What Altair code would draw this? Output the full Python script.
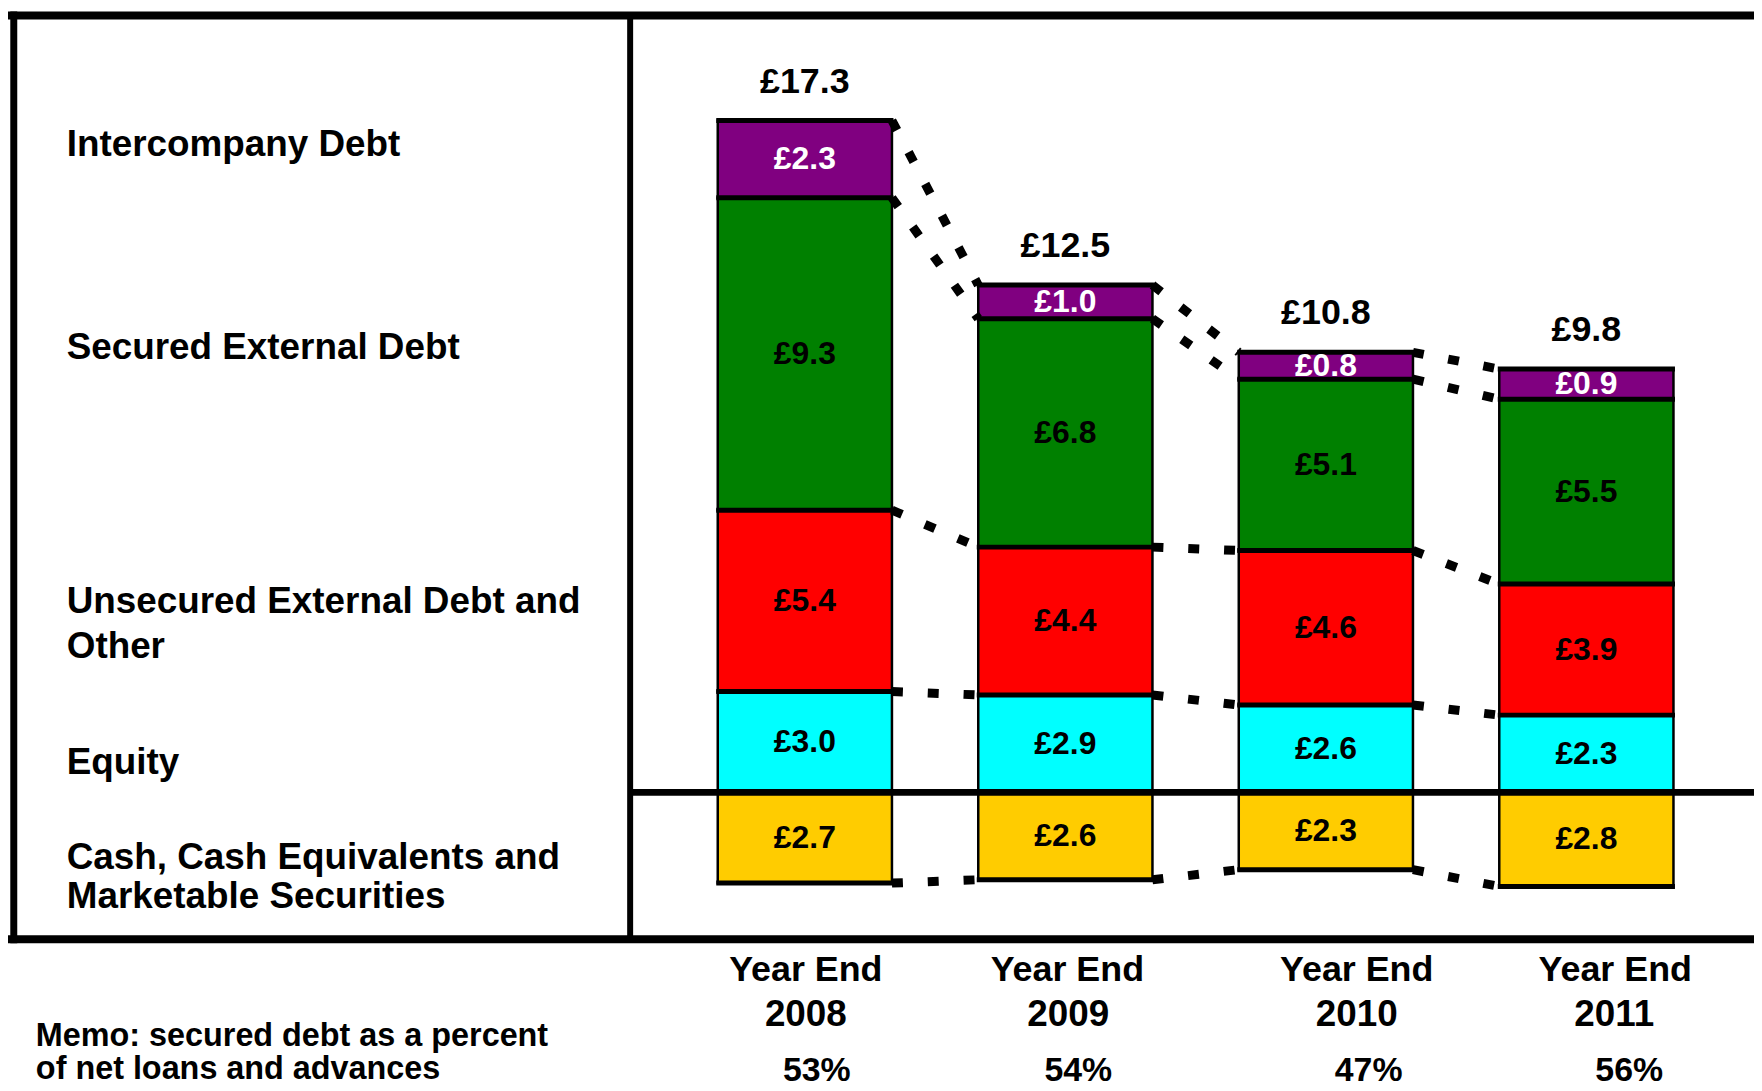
import altair as alt
import pandas as pd

# ---------------- data ----------------
years = ["2008", "2009", "2010", "2011"]
intercompany = [2.3, 1.0, 0.8, 0.9]
secured = [9.3, 6.8, 5.1, 5.5]
unsecured = [5.4, 4.4, 4.6, 3.9]
equity = [3.0, 2.9, 2.6, 2.3]
cash = [2.7, 2.6, 2.3, 2.8]
totals = [17.3, 12.5, 10.8, 9.8]
memo_pct = ["53%", "54%", "47%", "56%"]

segment_names = ["Equity", "Unsecured", "Secured", "Intercompany", "Cash"]
segment_colors = ["#00FFFF", "#FF0000", "#008000", "#800080", "#FFCC00"]

row_labels = [
    "Intercompany Debt",
    "Secured External Debt",
    "Unsecured External Debt and",
    "Other",
    "Equity",
    "Cash, Cash Equivalents and",
    "Marketable Securities",
]
memo_lines = ["Memo: secured debt as a percent", "of net loans and advances"]

# ---------------- derived tables ----------------
seg_rows = []
levels = {}  # per year boundary levels
for i, yr in enumerate(years):
    base = 0.0
    lv = []
    for name, vals in [("Equity", equity), ("Unsecured", unsecured),
                       ("Secured", secured), ("Intercompany", intercompany)]:
        v = vals[i]
        seg_rows.append(dict(year=yr, seg=name, y0=base, y1=base + v,
                             mid=base + v / 2, label=f"£{v:.1f}"))
        base += v
        lv.append(base)
    seg_rows.append(dict(year=yr, seg="Cash", y0=-cash[i], y1=0.0,
                         mid=-cash[i] / 2, label=f"£{cash[i]:.1f}"))
    levels[yr] = lv + [-cash[i]]
seg_df = pd.DataFrame(seg_rows)

tick_rows = []
for yr in years:
    for v in levels[yr]:
        tick_rows.append(dict(year=yr, v=v))
tick_df = pd.DataFrame(tick_rows)

conn_rows = []
for k in range(5):
    for i in range(len(years) - 1):
        a, b = years[i], years[i + 1]
        conn_rows.append(dict(ya=a, yb=b, va=levels[a][k], vb=levels[b][k]))
conn_df = pd.DataFrame(conn_rows)

tot_df = pd.DataFrame(dict(year=years, top=[levels[y][3] for y in years],
                           label=[f"£{t:.1f}" for t in totals]))
bottom_df = pd.DataFrame(dict(year=years, pct=memo_pct))

# ---------------- layout ----------------
W, H = 1754, 1083
PX = 33.75          # pixels per £bn
ZERO = 785.5        # pixel row of zero inside the plot
FONT = "Liberation Sans"

x_scale = alt.Scale(domain=years, range=[713, 1673.1], paddingInner=0.3313, paddingOuter=0)
y_scale = alt.Scale(domain=[-(H - ZERO) / PX, ZERO / PX], nice=False, zero=False)

X = lambda f: alt.X(f, type="nominal", scale=x_scale, axis=None)
Y = lambda f: alt.Y(f, type="quantitative", scale=y_scale, axis=None)

layers = []

bars = alt.Chart(seg_df).mark_bar(stroke="black", strokeWidth=2.5, opacity=1).encode(
    x=X("year"), y=Y("y0"), y2="y1",
    color=alt.Color("seg:N", scale=alt.Scale(domain=segment_names, range=segment_colors), legend=None),
)
layers.append(bars)

ticks = alt.Chart(tick_df).mark_tick(color="black", thickness=5, size=178,
                                     orient="horizontal", opacity=1).encode(x=X("year"), y=Y("v"))
layers.append(ticks)

conn = alt.Chart(conn_df).mark_rule(color="black", strokeWidth=9, strokeDash=[11, 25]).encode(
    x=alt.X("ya:N", scale=x_scale, axis=None, bandPosition=1),
    x2=alt.X2("yb:N", bandPosition=0),
    y=Y("va"), y2="vb",
)
layers.append(conn)

one = alt.Data(values=[{}])
zero_line = alt.Chart(one).mark_rule(color="black", strokeWidth=7).encode(
    x=alt.value(625), x2=alt.value(W), y=alt.Y(datum=0, scale=y_scale, axis=None))
layers.append(zero_line)

frame = [
    dict(x=0, x2=W, y=5, y2=5, w=8),         # top
    dict(x=0, x2=W, y=933, y2=933, w=8),     # bottom
    dict(x=5.8, x2=5.8, y=1, y2=937, w=7),   # left
    dict(x=625, x2=625, y=5, y2=933, w=6),   # divider
]
for f in frame:
    layers.append(alt.Chart(one).mark_rule(color="black", strokeWidth=f["w"]).encode(
        x=alt.value(f["x"]), x2=alt.value(f["x2"]), y=alt.value(f["y"]), y2=alt.value(f["y2"])))

seg_text = alt.Chart(seg_df).mark_text(font=FONT, fontSize=32, fontWeight="bold", baseline="middle").encode(
    x=X("year"), y=Y("mid"), text="label:N",
    color=alt.condition(alt.datum.seg == "Intercompany", alt.value("white"), alt.value("black")),
)
layers.append(seg_text)

tot_text = alt.Chart(tot_df).mark_text(font=FONT, fontSize=36, fontWeight="bold",
                                       baseline="alphabetic", dy=-28, color="black").encode(
    x=X("year"), y=Y("top"), text="label:N")
layers.append(tot_text)

row_y = [146, 350, 605, 650, 767, 862, 902]
for txt, yy in zip(row_labels, row_y):
    layers.append(alt.Chart(one).mark_text(font=FONT, fontSize=37, fontWeight="bold", align="left",
                                           baseline="alphabetic", color="black").encode(
        x=alt.value(59), y=alt.value(yy), text=alt.value(txt)))

memo_y = [1040, 1073]
for txt, yy in zip(memo_lines, memo_y):
    layers.append(alt.Chart(one).mark_text(font=FONT, fontSize=32.5, fontWeight="bold", align="left",
                                           baseline="alphabetic", color="black").encode(
        x=alt.value(28), y=alt.value(yy), text=alt.value(txt)))

year_dx = [1, 2, 31, 29]
num_dx = [1, 3, 31, 28]
pct_dx = [12, 13, 43, 43]
for i, yr in enumerate(years):
    sub = bottom_df[bottom_df["year"] == yr]
    base = alt.Chart(sub)
    layers.append(base.mark_text(font=FONT, fontSize=36, fontWeight="bold", baseline="alphabetic",
                                 dx=year_dx[i], color="black").encode(
        x=X("year"), y=alt.value(975), text=alt.value("Year End")))
    layers.append(base.mark_text(font=FONT, fontSize=37, fontWeight="bold", baseline="alphabetic",
                                 dx=num_dx[i], color="black").encode(
        x=X("year"), y=alt.value(1020), text="year:N"))
    layers.append(base.mark_text(font=FONT, fontSize=34, fontWeight="bold", baseline="alphabetic",
                                 dx=pct_dx[i], color="black").encode(
        x=X("year"), y=alt.value(1075), text="pct:N"))

chart = alt.layer(*layers).properties(
    width=W, height=H, autosize=alt.AutoSizeParams(type="none"), padding=0,
    background="white",
).configure_view(strokeWidth=0)

chart.save("out.html", embed_options={"renderer": "svg", "actions": False})
